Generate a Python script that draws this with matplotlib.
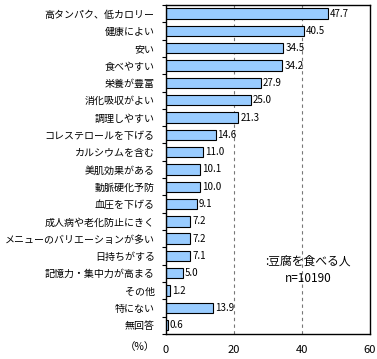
import matplotlib
matplotlib.use("Agg")
from matplotlib import pyplot as plt
import numpy as np

categories = [
    "高タンパク、低カロリー", "健康によい", "安い", "食べやすい", "栄養が豊富",
    "消化吸収がよい", "調理しやすい", "コレステロールを下げる", "カルシウムを含む",
    "美肌効果がある", "動脈硬化予防", "血圧を下げる", "成人病や老化防止にきく",
    "メニューのバリエーションが多い", "日持ちがする", "記憶力・集中力が高まる",
    "その他", "特にない", "無回答",
]
values = [47.7, 40.5, 34.5, 34.2, 27.9, 25.0, 21.3, 14.6, 11.0, 10.1,
          10.0, 9.1, 7.2, 7.2, 7.1, 5.0, 1.2, 13.9, 0.6]
xticks = [0, 20, 40, 60]
legend_text = ":豆腐を食べる人\nn=10190"

plt.rcParams['font.family'] = ['Noto Sans CJK JP', 'DejaVu Sans']

fig = plt.figure(figsize=(3.77, 3.59), dpi=100)
ax = fig.add_axes([0.440, 0.070, 0.541, 0.916])

y = np.arange(len(categories))
ax.barh(y, values, height=0.6, color="#99CCFF", edgecolor="black", linewidth=0.8)
for yi, v in zip(y, values):
    ax.text(v + 0.6, yi, "%.1f" % v, va="center", ha="left", fontsize=7)

ax.set_xlim(0, 60)
ax.set_ylim(len(categories) - 0.5, -0.5)
ax.set_yticks(y)
ax.set_yticklabels(categories, fontsize=7.2)
ax.tick_params(axis="y", length=0, pad=8)
ax.set_yticks(np.arange(len(categories) + 1) - 0.5, minor=True)
ax.tick_params(axis="y", which="minor", length=3, direction="out", width=0.8)
ax.set_xticks(xticks)
ax.set_xticklabels([str(t) for t in xticks], fontsize=8)
ax.tick_params(axis="x", length=0, pad=8)

for t in [20, 40]:
    ax.axvline(t, color="#777777", linestyle=(0, (3, 3)), linewidth=0.8, zorder=0)

for s in ax.spines.values():
    s.set_linewidth(1.0)

ax.text(41.8, 14.8, legend_text, ha="center", va="center", fontsize=8.5, linespacing=1.4)
fig.text(140 / 377, 1 - 347 / 359, "（%）", ha="center", va="center", fontsize=7.5)

fig.savefig("out.png", dpi=100)
